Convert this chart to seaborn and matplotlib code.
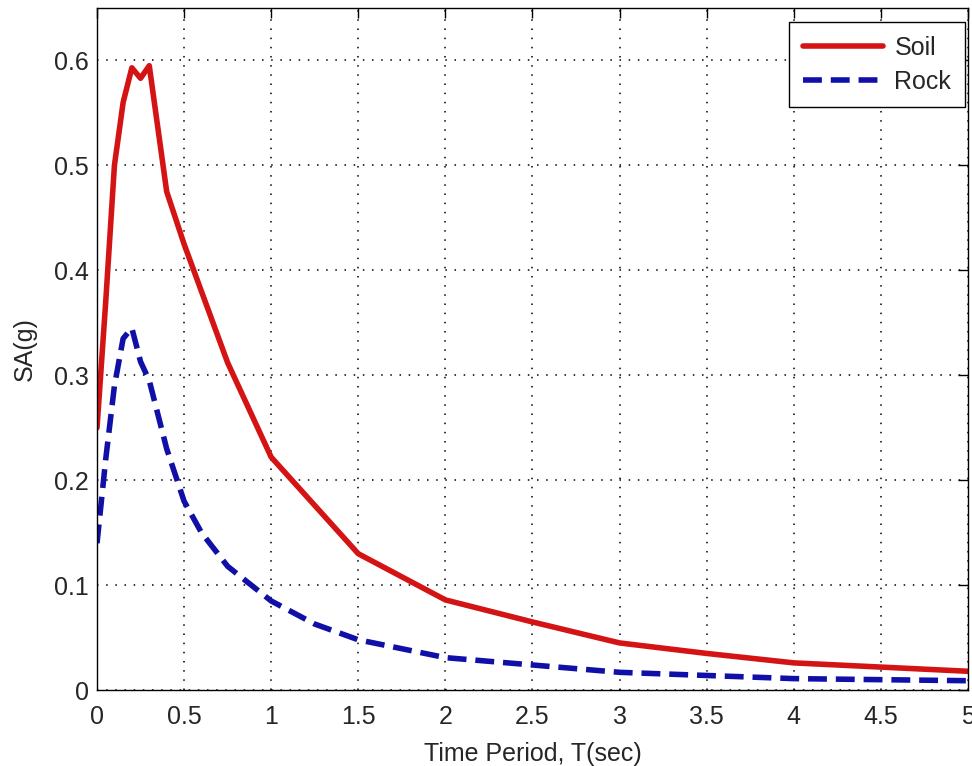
import matplotlib
matplotlib.use("Agg")
import matplotlib.pyplot as plt
import matplotlib.ticker as mticker
import seaborn as sns

# Data
soil_T = [0, 0.05, 0.1, 0.15, 0.2, 0.25, 0.3, 0.4, 0.5, 0.75, 1.0, 1.5, 2.0, 2.5, 3.0, 3.5, 4.0, 4.5, 5.0]
soil_SA = [0.25, 0.37, 0.50, 0.56, 0.593, 0.583, 0.595, 0.475, 0.425, 0.312, 0.222, 0.130, 0.086, 0.065, 0.045, 0.035, 0.026, 0.022, 0.018]

rock_T = [0, 0.05, 0.1, 0.15, 0.2, 0.25, 0.3, 0.4, 0.5, 0.6, 0.75, 1.0, 1.25, 1.5, 2.0, 2.5, 3.0, 3.5, 4.0, 4.5, 5.0]
rock_SA = [0.14, 0.22, 0.29, 0.335, 0.345, 0.313, 0.295, 0.23, 0.18, 0.15, 0.118, 0.085, 0.063, 0.048, 0.031, 0.024, 0.017, 0.014, 0.011, 0.010, 0.009]

x_ticks = [0, 0.5, 1, 1.5, 2, 2.5, 3, 3.5, 4, 4.5, 5]
y_ticks = [0, 0.1, 0.2, 0.3, 0.4, 0.5, 0.6]

sns.set_style("white")
plt.rcParams['font.family'] = ['Liberation Sans', 'DejaVu Sans']
plt.rcParams['xtick.direction'] = 'in'
plt.rcParams['ytick.direction'] = 'in'

fig = plt.figure(figsize=(9.72, 7.66), dpi=100)
ax = fig.add_axes([0.0998, 0.099, 0.896, 0.8906])

sns.lineplot(x=soil_T, y=soil_SA, ax=ax, color='#d41414', linewidth=4.0, label='Soil')
sns.lineplot(x=rock_T, y=rock_SA, ax=ax, color='#1010a8', linewidth=4.0, label='Rock')
ax.lines[1].set_dashes([3.4, 1.6])

ax.set_xlim(0, 5)
ax.set_ylim(0, 0.65)
ax.set_xticks(x_ticks)
ax.set_yticks(y_ticks)
ax.xaxis.set_major_formatter(mticker.FormatStrFormatter('%g'))
ax.yaxis.set_major_formatter(mticker.FormatStrFormatter('%g'))
ax.tick_params(labelsize=18, length=7, width=1, color='black', top=True, right=True)
ax.tick_params(axis='x', pad=11)
ax.tick_params(axis='y', pad=6)
ax.grid(True, linestyle=(0, (1, 5)), color='black', linewidth=1.1)
for s in ax.spines.values():
    s.set_color('black')
    s.set_linewidth(1.0)
ax.set_xlabel('Time Period, T(sec)', fontsize=18, labelpad=9)
ax.set_ylabel('SA(g)', fontsize=18, labelpad=12)

leg = ax.legend(loc='upper right', bbox_to_anchor=(0.9966, 0.9795), fontsize=18,
                frameon=True, fancybox=False, edgecolor='black', framealpha=1,
                handlelength=3.2, borderaxespad=0, borderpad=0.55, labelspacing=0.4,
                handletextpad=0.45)
leg.get_frame().set_linewidth(1.0)

fig.savefig('out.png', dpi=100)
